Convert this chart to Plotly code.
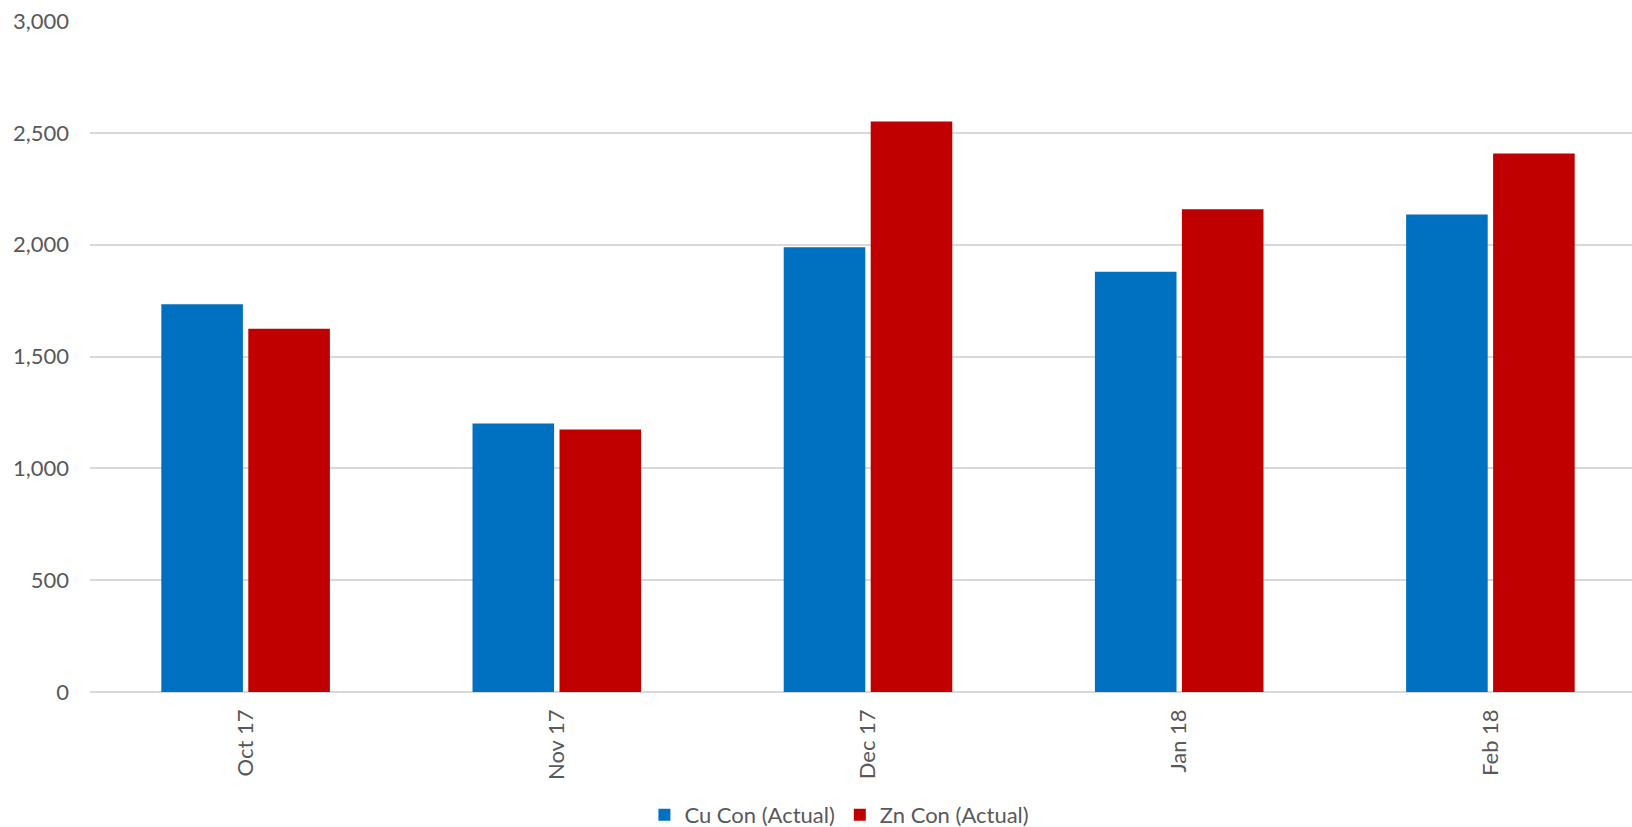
import plotly.graph_objects as go

categories = ["Oct 17", "Nov 17", "Dec 17", "Jan 18", "Feb 18"]
cu_con = [1734, 1200, 1989, 1879, 2135]
zn_con = [1624, 1174, 2551, 2158, 2408]
y_ticks = [0, 500, 1000, 1500, 2000, 2500, 3000]
y_tick_labels = ["0", "500", "1,000", "1,500", "2,000", "2,500", "3,000"]

font_family = "Lato, 'Open Sans', sans-serif"
text_color = "#595959"

fig = go.Figure()
fig.add_trace(go.Bar(x=categories, y=cu_con, name="Cu Con (Actual)",
                     marker=dict(color="#0070C0", line=dict(width=0))))
fig.add_trace(go.Bar(x=categories, y=zn_con, name="Zn Con (Actual)",
                     marker=dict(color="#C00000", line=dict(width=0))))

fig.update_layout(
    width=1632, height=827,
    margin=dict(l=90, r=0, t=21, b=135),
    paper_bgcolor="white", plot_bgcolor="white",
    barmode="group", bargap=0.441, bargroupgap=0.062,
    font=dict(family=font_family, size=22, color=text_color),
    showlegend=True,
    legend=dict(orientation="h", x=0.486, xanchor="center",
                yref="container", y=0.0145, yanchor="middle",
                font=dict(size=22, color=text_color),
                traceorder="normal", itemwidth=30),
    xaxis=dict(range=[-0.5, 4.455], tickangle=-90, showgrid=False,
               showline=False, zeroline=False,
               ticks="", ticklabelstandoff=12,
               tickfont=dict(size=22, color=text_color)),
    yaxis=dict(range=[0, 3000], tickvals=y_ticks, ticktext=y_tick_labels,
               showgrid=True, gridcolor="#D9D9D9", gridwidth=1.5,
               zeroline=True, zerolinecolor="#D9D9D9", zerolinewidth=1.5,
               showline=False, ticks="", ticklabelstandoff=20,
               tickfont=dict(size=22, color=text_color)),
)

fig.write_html("out.html")
